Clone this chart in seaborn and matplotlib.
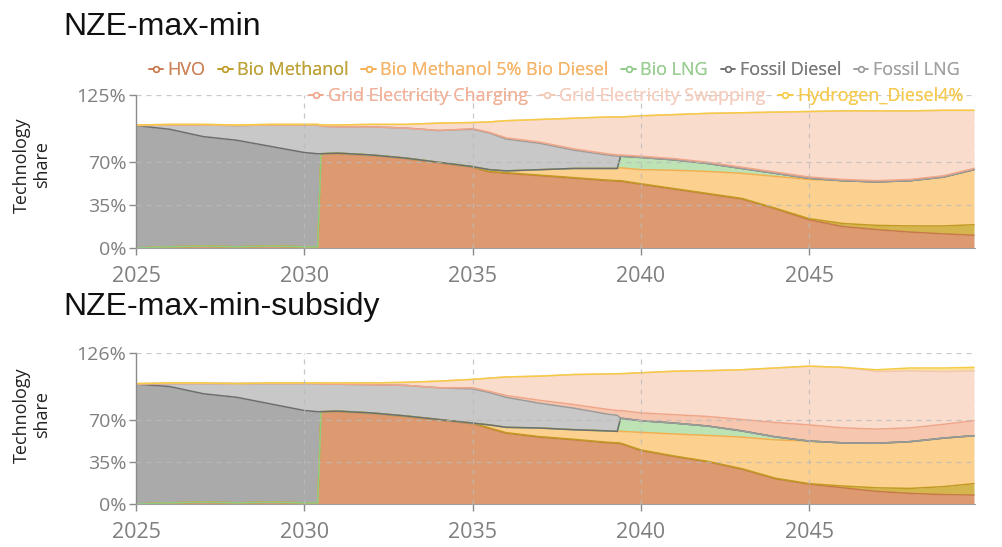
import numpy as np
import pandas as pd
import seaborn as sns
import matplotlib
matplotlib.use("Agg")
import matplotlib.pyplot as plt
from matplotlib.lines import Line2D

# ---------------------------------------------------------------------------
# Data: technology shares (%) of the fleet by year, two scenarios
# ---------------------------------------------------------------------------
years = [2025, 2026, 2027, 2028, 2029, 2030, 2030.4, 2030.5, 2031, 2032, 2033,
         2034, 2035, 2035.5, 2036, 2037, 2038, 2039, 2039.3, 2039.4, 2040,
         2041, 2042, 2043, 2044, 2045, 2046, 2047, 2048, 2049, 2049.9]

technologies = ["HVO", "Bio Methanol", "Bio Methanol 5% Bio Diesel", "Bio LNG",
                "Fossil Diesel", "Fossil LNG", "Grid Electricity Charging",
                "Grid Electricity Swapping", "Hydrogen_Diesel4%"]

# Scenario NZE-max-min
a_hvo = [0, 1, 1.5, 1, 1.5, 1, 1, 77, 77, 75.5, 73, 69.5, 66, 62, 61, 59, 57, 55,
         54.5, 54.5, 52, 48, 44, 40, 32, 23, 17.5, 15, 13, 11.5, 10.4]
a_bio_methanol = [0, 0, 0, 0, 0, 0, 0, 0, 0.5, 0.5, 0.5, 0.5, 0.5, 0.5, 0.5, 0.5,
                  0.5, 0.5, 0.5, 0.5, 0.5, 0.5, 0.5, 0.5, 0.5, 1, 2.5, 3.5, 5, 6.5, 8.6]
a_bio_methanol_5 = [0, 0, 0, 0, 0, 0, 0, 0, 0, 0, 0, 0, 0, 1.5, 1.5, 4.5, 7.5, 9.5,
                    10, 10.5, 11.5, 15, 18, 20.5, 26, 32, 35, 35.5, 37, 40, 45]
a_bio_lng = [0, 0, 0, 0, 0, 0, 0, 0, 0, 0, 0, 0, 0, 0, 0, 0, 0, 0, 0, 9.5, 10,
             8.5, 6.5, 4, 2.5, 1, 0, 0, 0, 0, 0]
a_fossil_diesel = [100, 96, 89.5, 87, 81.5, 77, 76, 0, 0, 0, 0, 0, 0, 0, 0, 0, 0,
                   0, 0, 0, 0, 0, 0, 0, 0, 0, 0, 0, 0, 0, 0]
a_fossil_lng = [0, 3.5, 9.5, 12, 17.5, 22.5, 23.5, 22.5, 21.5, 23, 24.5, 26, 30.5,
                30, 26, 21.5, 15, 11, 10, 0, 0, 0, 0, 0, 0, 0, 0, 0, 0, 0, 0]
a_grid_charging = [0, 0, 0, 0, 0, 0, 0, 0, 0, 0, 0, 0, 0.5, 0.5, 1, 1, 1, 1, 1, 1,
                   1, 1, 1, 1, 1, 1, 1, 1, 1, 1, 1]
a_grid_swapping = [0.5, 0.5, 0.5, 0.5, 0.5, 0.5, 0.5, 1, 1.5, 2, 3, 6, 5, 8.5, 14,
                   18.5, 25, 30, 31, 31, 33, 36, 40, 44.5, 49, 53.5, 56, 57, 56,
                   53.5, 47.5]
a_hydrogen = [0] * 31

# Scenario NZE-max-min-subsidy
b_hvo = [0, 1, 1.5, 1, 1.5, 1, 1, 77, 77, 75.5, 73, 70, 67, 63, 59, 55.7, 53.5,
         51, 50.5, 50.3, 44.6, 39.5, 35, 29, 21, 16.5, 13.5, 10.5, 8.8, 7.8, 7.4]
b_bio_methanol = [0, 0, 0, 0, 0, 0, 0, 0, 0.5, 0.5, 0.5, 0.5, 0.5, 0.5, 0.5, 0.5,
                  0.5, 0.5, 0.5, 0.5, 0.5, 0.5, 0.5, 0.5, 0.5, 0.5, 1.5, 3, 4.2,
                  6.7, 9.6]
b_bio_methanol_5 = [0, 0, 0, 0, 0, 0, 0, 0, 0, 0, 0, 0, 0, 2.5, 4.5, 7.2, 8, 9.5,
                    9.6, 9.8, 14.7, 18.4, 21.7, 26.3, 32, 35.5, 36, 37.2, 39,
                    40.5, 40]
b_bio_lng = [0, 0, 0, 0, 0, 0, 0, 0, 0, 0, 0, 0, 0, 0, 0, 0, 0, 0, 0, 11, 9.7,
             9.1, 7.8, 5.2, 2.5, 0, 0, 0, 0, 0, 0]
b_fossil_diesel = [100, 97, 90.5, 88, 82, 77, 76, 0, 0, 0, 0, 0, 0, 0, 0, 0, 0,
                   0, 0, 0, 0, 0, 0, 0, 0, 0, 0, 0, 0, 0, 0]
b_fossil_lng = [0, 2.5, 8.5, 11.5, 17, 22.5, 23.5, 23, 22.5, 23.5, 25.5, 26.5,
                28.5, 27, 25, 20.6, 18, 14, 13.4, 0, 0, 0, 0, 0, 0, 0, 0, 0, 0,
                0, 0]
b_grid_charging = [0, 0, 0, 0, 0, 0, 0, 0, 0, 0, 0, 0, 1, 1, 1.5, 2.5, 3, 4, 4,
                   6.4, 6.5, 7, 8, 9.5, 12, 13.5, 12.5, 11.8, 11.5, 11.5, 12.5]
b_grid_swapping = [0.5, 0.5, 0.5, 0, 0.5, 0.5, 0.5, 1, 1, 1.5, 2.5, 5.5, 7, 11,
                   15.5, 20.2, 25, 29.5, 30.7, 30.7, 33.5, 36.3, 38.3, 41.5, 45.5,
                   49, 50.5, 48, 47.5, 44, 41.5]
b_hydrogen = [0] * 27 + [1.5, 2.5, 3, 3]

scenarios = [
    ("NZE-max-min",
     [a_hvo, a_bio_methanol, a_bio_methanol_5, a_bio_lng, a_fossil_diesel,
      a_fossil_lng, a_grid_charging, a_grid_swapping, a_hydrogen],
     [0, 35, 70, 125]),
    ("NZE-max-min-subsidy",
     [b_hvo, b_bio_methanol, b_bio_methanol_5, b_bio_lng, b_fossil_diesel,
      b_fossil_lng, b_grid_charging, b_grid_swapping, b_hydrogen],
     [0, 35, 70, 126]),
]

# ---------------------------------------------------------------------------
# Styling
# ---------------------------------------------------------------------------
line_colors = ["#C9784A", "#C29A22", "#F5AE4E", "#8ECB86", "#6E6E6E",
               "#9C9C9C", "#EFA689", "#F4C7B4", "#F6CB44"]
fill_colors = ["#DD9A70", "#D4B54E", "#FCD08F", "#BDE3B4", "#AAAAAA",
               "#C8C8C8", "#F6C6AF", "#FADCCD", "#FBE29A"]
text_colors = ["#CD845A", "#BEA23A", "#F5B468", "#9ACD92", "#7A7A7A",
               "#A2A2A2", "#F2B29A", "#F5CDBD", "#F5CA50"]

sns.set_theme(style="white")
plt.rcParams["font.family"] = ["Open Sans", "DejaVu Sans"]

W, H = 1002, 547
fig = plt.figure(figsize=(W / 100, H / 100), dpi=100)

x_end = 2049.93
axes_px = [(136, 95, 248), (136, 353, 504)]  # left, top, bottom in pixels
right_px = 975
label_centers = [165, 415]
title_baselines = [35, 315]

for (title, shares, yticks), (lpx, tpx, bpx), lab_y, tb in zip(
        scenarios, axes_px, label_centers, title_baselines):
    ax = fig.add_axes([lpx / W, 1 - bpx / H, (right_px - lpx) / W, (bpx - tpx) / H])

    shares_arr = np.array(shares, dtype=float)
    tops = np.cumsum(shares_arr, axis=0)
    bottoms = np.vstack([np.zeros(len(years)), tops[:-1]])

    for i in range(len(technologies)):
        ax.fill_between(years, bottoms[i], tops[i], color=fill_colors[i],
                        linewidth=0, zorder=1)

    long = pd.DataFrame({
        "year": np.tile(years, len(technologies)),
        "top": tops.ravel(),
        "technology": np.repeat(technologies, len(years)),
    })
    sns.lineplot(data=long, x="year", y="top", hue="technology",
                 hue_order=technologies, palette=line_colors, linewidth=1.1,
                 legend=False, ax=ax, zorder=2, sort=False)

    ax.set_xlim(2025, x_end)
    ax.set_ylim(0, yticks[-1])
    ax.set_xticks([2025, 2030, 2035, 2040, 2045])
    ax.set_yticks(yticks)
    ax.set_yticklabels([f"{v}%" for v in yticks])
    ax.set_xlabel("")
    ax.set_ylabel("")

    for v in yticks[1:]:
        ax.axhline(v, color="#BBBBBB", lw=0.9, ls=(0, (4, 4)), zorder=3, alpha=0.8)
    for v in [2030, 2035, 2040, 2045, x_end]:
        ax.axvline(v, color="#BBBBBB", lw=0.9, ls=(0, (4, 4)), zorder=3, alpha=0.8)

    for s in ["top", "right"]:
        ax.spines[s].set_visible(False)
    ax.spines["left"].set_color("#8A8A8A")
    ax.spines["bottom"].set_color("#A0A0A0")
    ax.spines["left"].set_linewidth(1.0)
    ax.spines["bottom"].set_linewidth(0.8)
    ax.tick_params(axis="both", colors="#8A8A8A", labelcolor="#7F7F7F",
                   length=5, width=1, direction="out", left=True, bottom=True)
    ax.tick_params(axis="y", labelsize=14, pad=2)
    ax.tick_params(axis="x", labelsize=15.5, pad=8)

    fig.text(32 / W, 1 - lab_y / H, "Technology\nshare", rotation=90,
             ha="center", va="center", fontsize=13, color="#222222",
             linespacing=1.1)
    fig.text(63 / W, 1 - tb / H, title, ha="left", va="baseline",
             fontsize=23, color="#111111", family=["Liberation Sans", "DejaVu Sans"])

# Legend, two rows above the first panel
handles = [Line2D([0], [0], color=c, lw=1.1, marker="o", markersize=4,
                  markerfacecolor="white", markeredgewidth=1.1)
           for c in line_colors]

rows = [(range(0, 6), 554, 70), (range(6, 9), 636, 96)]
for idx, cx, cy in rows:
    idx = list(idx)
    leg = fig.legend([handles[i] for i in idx], [technologies[i] for i in idx],
                     loc="center", bbox_to_anchor=(cx / W, 1 - cy / H),
                     ncol=len(idx), frameon=False, fontsize=13,
                     handlelength=0.8, handletextpad=0.25, columnspacing=0.7,
                     borderaxespad=0, borderpad=0)
    for t, i in zip(leg.get_texts(), idx):
        t.set_color(text_colors[i])
    fig.add_artist(leg)

fig.savefig("out.png", dpi=100)
